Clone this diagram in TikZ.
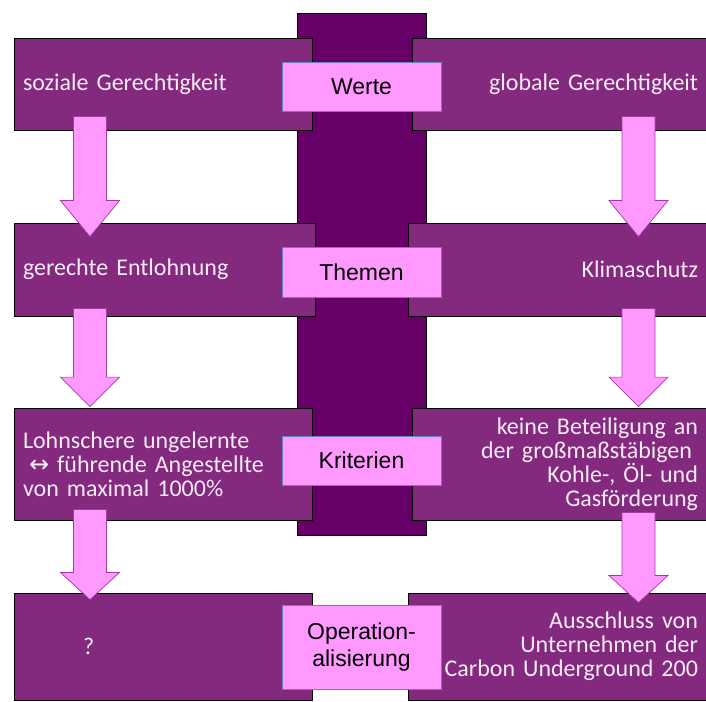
\documentclass[tikz,border=0pt]{standalone}
\usepackage{fontspec}
\usepackage{xcolor}
\usepackage{tikz}
\usetikzlibrary{calc}
\newfontfamily\boxfont{Carlito}
\newfontfamily\tagfont{Liberation Sans}
\newfontfamily\symfont{DejaVu Sans}
\definecolor{wkAxis}{HTML}{660066}
\definecolor{wkBox}{HTML}{832A7F}
\definecolor{wkText}{HTML}{F6EAF4}
\definecolor{wkPink}{HTML}{FF99FF}
\definecolor{wkArrow}{HTML}{A23C9C}
\definecolor{wkFrame}{HTML}{6D7FBE}
\tikzset{
  axisbar/.style={rectangle,draw=black,fill=wkAxis,inner sep=0pt},
  lbox/.style={rectangle,draw=black,line width=0.8pt,fill=wkBox,
    text=wkText,font=\boxfont\fontsize{24}{24}\selectfont,
    inner xsep=9pt,inner ysep=0pt,text width=280pt,align=left},
  rbox/.style={rectangle,draw=black,line width=0.8pt,fill=wkBox,
    text=wkText,font=\boxfont\fontsize{24}{24}\selectfont,
    inner xsep=8pt,inner ysep=0pt,text width=278pt,align=right},
  tagbox/.style={rectangle,draw=wkFrame,line width=0.8pt,fill=wkPink,
    text=black,font=\tagfont\fontsize{23}{27}\selectfont,
    minimum width=159pt,minimum height=49pt,inner sep=0pt,align=center},
  blockarr/.style={draw=wkArrow,fill=wkPink,line width=0.7pt},
}
% block arrow: from node, to node, x coordinate, overlap top, overlap bottom
\newcommand\blockarrow[5]{%
  \draw[blockarr] let \p1=(#3), \p2=(#1.south), \p3=(#2.north),
    \n1={\y2+#4pt}, \n2={\y3-#5pt}, \n3={\n2+0.3*(\n1-\n2)} in
    (\x1-16.5pt,\n1) -- (\x1+16.5pt,\n1) -- (\x1+16.5pt,\n3)
    -- (\x1+29.5pt,\n3) -- (\x1,\n2) -- (\x1-29.5pt,\n3)
    -- (\x1-16.5pt,\n3) -- cycle;}

\begin{document}
\begin{tikzpicture}[x=1pt,y=-1pt]
  \useasboundingbox (0,0) rectangle (706,701);

  % middle axis
  \node[axisbar,minimum width=129pt,minimum height=522pt] (axis) at (361.5,274) {};

  % left column
  \node[lbox,minimum height=92pt] (soz) at (163,84) {soziale Gerechtigkeit};
  \node[lbox,minimum height=93pt,text width=283pt] (entl) at (164.5,269.5) {gerechte Entlohnung};
  \node[lbox,minimum height=112pt] (lohn) at (163,464)
    {Lohnschere ungelernte\\
     \hspace*{0.25em}{\symfont ↔} führende Angestellte\\
     von maximal 1000\%};
  \node[lbox,minimum height=107pt] (frage) at (163,646.5) {\hspace*{60pt}?};

  % right column
  \node[rbox,minimum height=92pt] (glob) at (559,84) {globale Gerechtigkeit};
  \node[rbox,minimum height=93pt,text width=282pt] (klima) at (557,269.5) {Klimaschutz};
  \node[rbox,minimum height=112pt] (kohle) at (559,464)
    {keine Beteiligung an\\
     der großmaßstäbigen\kern6pt\\
     Kohle-, Öl- und\\
     Gasförderung};
  \node[rbox,minimum height=107pt,text width=282pt] (aus) at (557,646.5)
    {Ausschluss von\\
     Unternehmen der\\
     Carbon Underground 200};

  % arrows
  \coordinate (aL) at (90,0);
  \coordinate (aR) at (638.5,0);
  \blockarrow{soz}{entl}{aL}{14}{14}
  \blockarrow{entl}{lohn}{aL}{8}{-1}
  \blockarrow{lohn}{frage}{aL}{11}{7}
  \blockarrow{glob}{klima}{aR}{14}{14}
  \blockarrow{klima}{kohle}{aR}{8}{-1}
  \blockarrow{kohle}{aus}{aR}{8}{10}

  % level tags
  \node[tagbox] (werte) at (361.5,86.5) {Werte};
  \node[tagbox,minimum height=50pt] (themen) at (361.5,272) {Themen};
  \node[tagbox] (krit) at (361.5,460.5) {Kriterien};
  \node[tagbox,minimum height=84pt] (oper) at (361.5,647) {Operation-\\alisierung};
\end{tikzpicture}
\end{document}
